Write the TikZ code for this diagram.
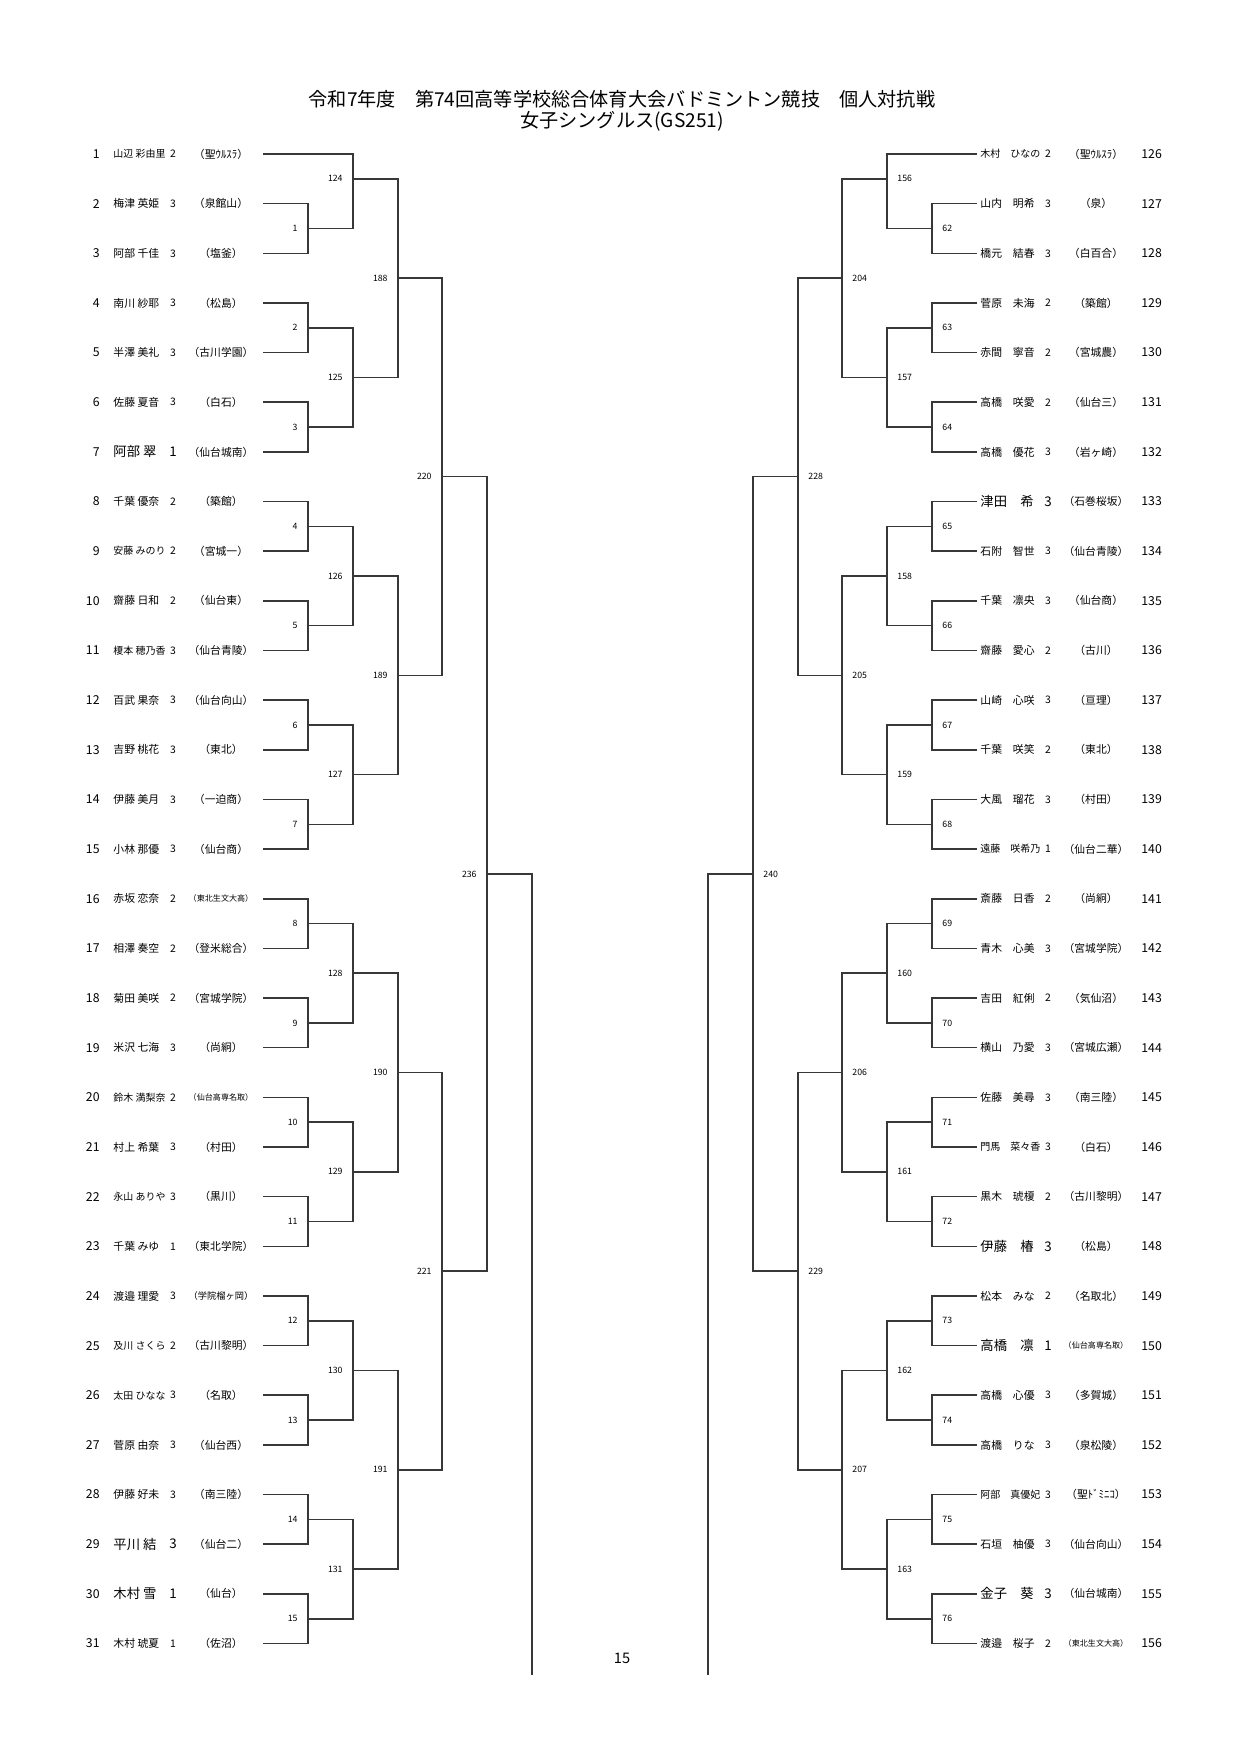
\documentclass[tikz,border=0pt]{standalone}
\usepackage{fontspec}
\usepackage{graphicx}
\setmainfont{Noto Sans CJK JP}
\newsavebox\fitbx
\newcommand\fitw[2]{\sbox\fitbx{#2}\ifdim\wd\fitbx>#1\relax\resizebox{#1}{!}{\usebox\fitbx}\else\usebox\fitbx\fi}
\newcommand\bgf{\fontsize{6.4}{7}\selectfont}
\tikzset{
  ln/.style={line width=0.75pt, black!78},
  lab/.style={font=\fontsize{4.2}{5}\selectfont, inner sep=0pt},
  num/.style={font=\fontsize{5.9}{7}\selectfont, inner sep=0pt},
  nm/.style={font=\fontsize{5.2}{6}\selectfont, inner sep=0pt},
  gr/.style={font=\fontsize{5}{6}\selectfont, inner sep=0pt},
  ttl/.style={font=\fontsize{9.2}{11}\selectfont, inner sep=0pt},
}
\newcommand\Lent[5]{%
  \node[num,anchor=east] (LN#1) at (100,#2) {#1};
  \node[nm,anchor=west] (LA#1) at (113,#2) {\fitw{25pt}{#3}};
  \node[gr] (LG#1) at (173,#2) {#4};
  \node[nm] (LS#1) at (221,#2) {\fitw{31pt}{（#5）}};
  \coordinate (P#1) at (263,#2);
}
\newcommand\Rent[5]{%
  \node[nm,anchor=west] (RA#1) at (980,#2) {\fitw{28.8pt}{#3}};
  \node[gr] (RG#1) at (1048,#2) {#4};
  \node[nm] (RS#1) at (1096,#2) {\fitw{31pt}{（#5）}};
  \node[num,anchor=west] (RN#1) at (1141,#2) {#1};
  \coordinate (P#1) at (977,#2);
}
\newcommand\Lmt[3]{\coordinate (M#1) at (#2,#3); \node[lab,anchor=east] (T#1) at ({#2-10},#3) {#1};}
\newcommand\Rmt[3]{\coordinate (M#1) at (#2,#3); \node[lab,anchor=west] (T#1) at ({#2+10},#3) {#1};}
\begin{document}
\begin{tikzpicture}[x=0.48pt,y=-0.48pt]
\fill[white] (0,0) rectangle (1241,1755);
\useasboundingbox (0,0) rectangle (1241,1755);
\node[ttl] (title1) at (622,99) {令和7年度　第74回高等学校総合体育大会バドミントン競技　個人対抗戦};
\node[ttl] (title2) at (622,121) {女子シングルス(GS251)};
\node[font=\fontsize{7}{8}\selectfont, inner sep=0pt] (page) at (622,1658) {15};
% left entries
\Lent{1}{154.00}{山辺 彩由里}{2}{聖ｳﾙｽﾗ}
\Lent{2}{203.65}{梅津 英姫}{3}{泉館山}
\Lent{3}{253.30}{阿部 千佳}{3}{塩釜}
\Lent{4}{302.95}{南川 紗耶}{3}{松島}
\Lent{5}{352.60}{半澤 美礼}{3}{古川学園}
\Lent{6}{402.25}{佐藤 夏音}{3}{白石}
\Lent{7}{451.90}{\bgf 阿部 翠}{\bgf 1}{仙台城南}
\Lent{8}{501.55}{千葉 優奈}{2}{築館}
\Lent{9}{551.20}{安藤 みのり}{2}{宮城一}
\Lent{10}{600.85}{齋藤 日和}{2}{仙台東}
\Lent{11}{650.50}{榎本 穂乃香}{3}{仙台青陵}
\Lent{12}{700.15}{百武 果奈}{3}{仙台向山}
\Lent{13}{749.80}{吉野 桃花}{3}{東北}
\Lent{14}{799.45}{伊藤 美月}{3}{一迫商}
\Lent{15}{849.10}{小林 那優}{3}{仙台商}
\Lent{16}{898.75}{赤坂 恋奈}{2}{東北生文大高}
\Lent{17}{948.40}{相澤 奏空}{2}{登米総合}
\Lent{18}{998.05}{菊田 美咲}{2}{宮城学院}
\Lent{19}{1047.70}{米沢 七海}{3}{尚絅}
\Lent{20}{1097.35}{鈴木 満梨奈}{2}{仙台高専名取}
\Lent{21}{1147.00}{村上 希葉}{3}{村田}
\Lent{22}{1196.65}{永山 ありや}{3}{黒川}
\Lent{23}{1246.30}{千葉 みゆ}{1}{東北学院}
\Lent{24}{1295.95}{渡邉 理愛}{3}{学院榴ヶ岡}
\Lent{25}{1345.60}{及川 さくら}{2}{古川黎明}
\Lent{26}{1395.25}{太田 ひなな}{3}{名取}
\Lent{27}{1444.90}{菅原 由奈}{3}{仙台西}
\Lent{28}{1494.55}{伊藤 好未}{3}{南三陸}
\Lent{29}{1544.20}{\bgf 平川 結}{\bgf 3}{仙台二}
\Lent{30}{1593.85}{\bgf 木村 雪}{\bgf 1}{仙台}
\Lent{31}{1643.50}{木村 琥夏}{1}{佐沼}
% right entries
\Rent{126}{154.00}{木村　ひなの}{2}{聖ｳﾙｽﾗ}
\Rent{127}{203.65}{山内　明希}{3}{泉}
\Rent{128}{253.30}{橋元　結春}{3}{白百合}
\Rent{129}{302.95}{菅原　未海}{2}{築館}
\Rent{130}{352.60}{赤間　寧音}{2}{宮城農}
\Rent{131}{402.25}{高橋　咲愛}{2}{仙台三}
\Rent{132}{451.90}{高橋　優花}{3}{岩ヶ崎}
\Rent{133}{501.55}{\bgf 津田　希}{\bgf 3}{石巻桜坂}
\Rent{134}{551.20}{石附　智世}{3}{仙台青陵}
\Rent{135}{600.85}{千葉　凛央}{3}{仙台商}
\Rent{136}{650.50}{齋藤　愛心}{2}{古川}
\Rent{137}{700.15}{山崎　心咲}{3}{亘理}
\Rent{138}{749.80}{千葉　咲笑}{2}{東北}
\Rent{139}{799.45}{大風　瑠花}{3}{村田}
\Rent{140}{849.10}{遠藤　咲希乃}{1}{仙台二華}
\Rent{141}{898.75}{斎藤　日香}{2}{尚絅}
\Rent{142}{948.40}{青木　心美}{3}{宮城学院}
\Rent{143}{998.05}{吉田　紅俐}{2}{気仙沼}
\Rent{144}{1047.70}{横山　乃愛}{3}{宮城広瀬}
\Rent{145}{1097.35}{佐藤　美尋}{3}{南三陸}
\Rent{146}{1147.00}{門馬　菜々香}{3}{白石}
\Rent{147}{1196.65}{黒木　琥榎}{2}{古川黎明}
\Rent{148}{1246.30}{\bgf 伊藤　椿}{\bgf 3}{松島}
\Rent{149}{1295.95}{松本　みな}{2}{名取北}
\Rent{150}{1345.60}{\bgf 高橋　凛}{\bgf 1}{仙台高専名取}
\Rent{151}{1395.25}{高橋　心優}{3}{多賀城}
\Rent{152}{1444.90}{高橋　りな}{3}{泉松陵}
\Rent{153}{1494.55}{阿部　真優妃}{3}{聖ﾄﾞﾐﾆｺ}
\Rent{154}{1544.20}{石垣　柚優}{3}{仙台向山}
\Rent{155}{1593.85}{\bgf 金子　葵}{\bgf 3}{仙台城南}
\Rent{156}{1643.50}{渡邉　桜子}{2}{東北生文大高}
% left match points
\Lmt{1}{308}{228.5}
\Lmt{2}{308}{327.8}
\Lmt{3}{308}{427.1}
\Lmt{4}{308}{526.4}
\Lmt{5}{308}{625.7}
\Lmt{6}{308}{725.0}
\Lmt{7}{308}{824.3}
\Lmt{8}{308}{923.6}
\Lmt{9}{308}{1022.9}
\Lmt{10}{308}{1122.2}
\Lmt{11}{308}{1221.5}
\Lmt{12}{308}{1320.8}
\Lmt{13}{308}{1420.1}
\Lmt{14}{308}{1519.4}
\Lmt{15}{308}{1618.7}
\Lmt{124}{353}{178.8}
\Lmt{125}{353}{377.45}
\Lmt{126}{353}{576.05}
\Lmt{127}{353}{774.65}
\Lmt{128}{353}{973.25}
\Lmt{129}{353}{1171.85}
\Lmt{130}{353}{1370.45}
\Lmt{131}{353}{1569.05}
\Lmt{188}{398}{278.1}
\Lmt{189}{398}{675.35}
\Lmt{190}{398}{1072.55}
\Lmt{191}{398}{1469.75}
\Lmt{220}{442}{476.7}
\Lmt{221}{442}{1271.15}
\Lmt{236}{487}{873.9}
\coordinate (FL) at (532,1675);
% right match points
\Rmt{62}{932}{228.5}
\Rmt{63}{932}{327.8}
\Rmt{64}{932}{427.1}
\Rmt{65}{932}{526.4}
\Rmt{66}{932}{625.7}
\Rmt{67}{932}{725.0}
\Rmt{68}{932}{824.3}
\Rmt{69}{932}{923.6}
\Rmt{70}{932}{1022.9}
\Rmt{71}{932}{1122.2}
\Rmt{72}{932}{1221.5}
\Rmt{73}{932}{1320.8}
\Rmt{74}{932}{1420.1}
\Rmt{75}{932}{1519.4}
\Rmt{76}{932}{1618.7}
\Rmt{156}{887}{178.8}
\Rmt{157}{887}{377.45}
\Rmt{158}{887}{576.05}
\Rmt{159}{887}{774.65}
\Rmt{160}{887}{973.25}
\Rmt{161}{887}{1171.85}
\Rmt{162}{887}{1370.45}
\Rmt{163}{887}{1569.05}
\Rmt{204}{842}{278.1}
\Rmt{205}{842}{675.35}
\Rmt{206}{842}{1072.55}
\Rmt{207}{842}{1469.75}
\Rmt{228}{798}{476.7}
\Rmt{229}{798}{1271.15}
\Rmt{240}{753}{873.9}
\coordinate (FR) at (708,1675);
% left bracket
\draw[ln] (P2) -| (M1) |- (P3);
\draw[ln] (P4) -| (M2) |- (P5);
\draw[ln] (P6) -| (M3) |- (P7);
\draw[ln] (P8) -| (M4) |- (P9);
\draw[ln] (P10) -| (M5) |- (P11);
\draw[ln] (P12) -| (M6) |- (P13);
\draw[ln] (P14) -| (M7) |- (P15);
\draw[ln] (P16) -| (M8) |- (P17);
\draw[ln] (P18) -| (M9) |- (P19);
\draw[ln] (P20) -| (M10) |- (P21);
\draw[ln] (P22) -| (M11) |- (P23);
\draw[ln] (P24) -| (M12) |- (P25);
\draw[ln] (P26) -| (M13) |- (P27);
\draw[ln] (P28) -| (M14) |- (P29);
\draw[ln] (P30) -| (M15) |- (P31);
\draw[ln] (P1) -| (M124) |- (M1);
\draw[ln] (M2) -| (M125) |- (M3);
\draw[ln] (M4) -| (M126) |- (M5);
\draw[ln] (M6) -| (M127) |- (M7);
\draw[ln] (M8) -| (M128) |- (M9);
\draw[ln] (M10) -| (M129) |- (M11);
\draw[ln] (M12) -| (M130) |- (M13);
\draw[ln] (M14) -| (M131) |- (M15);
\draw[ln] (M124) -| (M188) |- (M125);
\draw[ln] (M126) -| (M189) |- (M127);
\draw[ln] (M128) -| (M190) |- (M129);
\draw[ln] (M130) -| (M191) |- (M131);
\draw[ln] (M188) -| (M220) |- (M189);
\draw[ln] (M190) -| (M221) |- (M191);
\draw[ln] (M220) -| (M236) |- (M221);
\draw[ln] (M236) -| (FL);
% right bracket
\draw[ln] (P127) -| (M62) |- (P128);
\draw[ln] (P129) -| (M63) |- (P130);
\draw[ln] (P131) -| (M64) |- (P132);
\draw[ln] (P133) -| (M65) |- (P134);
\draw[ln] (P135) -| (M66) |- (P136);
\draw[ln] (P137) -| (M67) |- (P138);
\draw[ln] (P139) -| (M68) |- (P140);
\draw[ln] (P141) -| (M69) |- (P142);
\draw[ln] (P143) -| (M70) |- (P144);
\draw[ln] (P145) -| (M71) |- (P146);
\draw[ln] (P147) -| (M72) |- (P148);
\draw[ln] (P149) -| (M73) |- (P150);
\draw[ln] (P151) -| (M74) |- (P152);
\draw[ln] (P153) -| (M75) |- (P154);
\draw[ln] (P155) -| (M76) |- (P156);
\draw[ln] (P126) -| (M156) |- (M62);
\draw[ln] (M63) -| (M157) |- (M64);
\draw[ln] (M65) -| (M158) |- (M66);
\draw[ln] (M67) -| (M159) |- (M68);
\draw[ln] (M69) -| (M160) |- (M70);
\draw[ln] (M71) -| (M161) |- (M72);
\draw[ln] (M73) -| (M162) |- (M74);
\draw[ln] (M75) -| (M163) |- (M76);
\draw[ln] (M156) -| (M204) |- (M157);
\draw[ln] (M158) -| (M205) |- (M159);
\draw[ln] (M160) -| (M206) |- (M161);
\draw[ln] (M162) -| (M207) |- (M163);
\draw[ln] (M204) -| (M228) |- (M205);
\draw[ln] (M206) -| (M229) |- (M207);
\draw[ln] (M228) -| (M240) |- (M229);
\draw[ln] (M240) -| (FR);
\end{tikzpicture}
\end{document}
